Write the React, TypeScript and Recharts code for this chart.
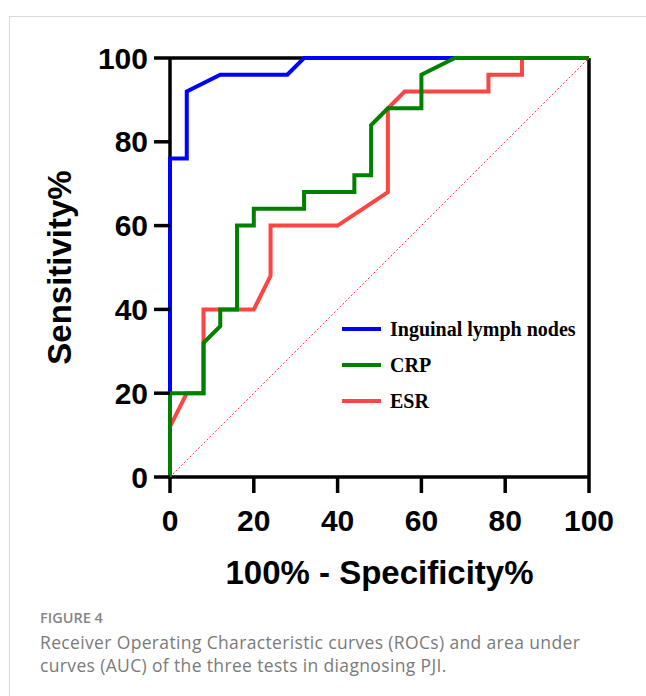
import { Legend, Line, LineChart, ReferenceLine, XAxis, YAxis } from "recharts";

const xTicks = [0, 20, 40, 60, 80, 100];
const yTicks = [0, 20, 40, 60, 80, 100];

// ROC points: x = 100% - specificity, y = sensitivity
const lymphX = [0, 0, 4, 4, 12, 28, 32, 100];
const lymphY = [0, 76, 76, 92, 96, 96, 100, 100];

const crpX = [0, 0, 8, 8, 12, 12, 16, 16, 20, 20, 32, 32, 44, 44, 48, 48, 52, 60, 60, 68, 100];
const crpY = [0, 20, 20, 32, 36, 40, 40, 60, 60, 64, 64, 68, 68, 72, 72, 84, 88, 88, 96, 100, 100];

const esrX = [0, 0, 4, 8, 8, 20, 24, 24, 40, 52, 52, 56, 76, 76, 84, 84, 100];
const esrY = [0, 12, 20, 20, 40, 40, 48, 60, 60, 68, 88, 92, 92, 96, 96, 100, 100];

const legendNames = ["Inguinal lymph nodes", "CRP", "ESR"];
const legendColors = ["#0000ff", "#008000", "#ff4444"];

const toPoints = (xs: number[], ys: number[]) => xs.map((x, i) => ({ x, y: ys[i] }));

const lymphData = toPoints(lymphX, lymphY);
const crpData = toPoints(crpX, crpY);
const esrData = toPoints(esrX, esrY);

const axisFont = "'Liberation Sans', Arial, Helvetica, sans-serif";
const tickStyle = { fontSize: 30, fontWeight: 700, fill: "#000", fontFamily: axisFont };
const frameStroke = { stroke: "#000", strokeWidth: 3.5 };

const XTitle = ({ viewBox }: any) => {
  const cx = viewBox.x + viewBox.width / 2;
  return (
    <text x={cx} y={584} textAnchor="middle" fontSize={33} fontWeight={700} fill="#000" fontFamily={axisFont}>
      100% - Specificity%
    </text>
  );
};

const YTitle = ({ viewBox }: any) => {
  const cy = viewBox.y + viewBox.height / 2;
  return (
    <text
      x={71}
      y={cy}
      transform={`rotate(-90 71 ${cy})`}
      textAnchor="middle"
      fontSize={33}
      fontWeight={700}
      fill="#000"
      fontFamily={axisFont}
    >
      Sensitivity%
    </text>
  );
};

const renderLegend = () => (
  <div>
    {legendNames.map((name, i) => (
      <div key={name} style={{ display: "flex", alignItems: "center", height: 36 }}>
        <div style={{ width: 39, height: 4, background: legendColors[i], marginRight: 9 }} />
        <span
          style={{
            fontFamily: "'Liberation Serif', 'Times New Roman', serif",
            fontWeight: 700,
            fontSize: 20,
            color: "#000",
            lineHeight: "20px",
            whiteSpace: "nowrap",
          }}
        >
          {name}
        </span>
      </div>
    ))}
  </div>
);

export default function App() {
  return (
    <div style={{ position: "absolute", left: 0, top: 0, width: 646, height: 696, background: "#fff", overflow: "hidden" }}>
      <div
        style={{
          position: "absolute",
          left: 9,
          top: 16,
          width: 700,
          height: 700,
          borderLeft: "1px solid #d9d9d9",
          borderTop: "1px solid #d9d9d9",
        }}
      />
      <div style={{ position: "absolute", left: 0, top: 0 }}>
        <LineChart width={646} height={600} margin={{ top: 58, right: 57, left: 0, bottom: 0 }}>
          <XAxis
            dataKey="x"
            type="number"
            domain={[0, 100]}
            ticks={xTicks}
            interval={0}
            height={123}
            tickSize={16}
            tickMargin={17}
            axisLine={false}
            tickLine={frameStroke}
            tick={tickStyle}
            label={{ content: XTitle }}
          />
          <YAxis
            dataKey="y"
            type="number"
            domain={[0, 100]}
            ticks={yTicks}
            interval={0}
            width={170}
            tickSize={16}
            tickMargin={6}
            axisLine={false}
            tickLine={frameStroke}
            tick={tickStyle}
            label={{ content: YTitle }}
          />
          {/* box frame drawn under the curves */}
          <ReferenceLine y={0} {...frameStroke} />
          <ReferenceLine x={0} {...frameStroke} />
          <ReferenceLine y={100} {...frameStroke} />
          <ReferenceLine x={100} {...frameStroke} />
          <ReferenceLine
            segment={[
              { x: 0, y: 0 },
              { x: 100, y: 100 },
            ]}
            stroke="#ff3333"
            strokeWidth={1}
            strokeDasharray="2 2"
          />
          <Line data={esrData} dataKey="y" name="ESR" type="linear" stroke="#ff4444" strokeWidth={4} dot={false} activeDot={false} isAnimationActive={false} />
          <Line data={lymphData} dataKey="y" name="Inguinal lymph nodes" type="linear" stroke="#0000ff" strokeWidth={4} dot={false} activeDot={false} isAnimationActive={false} />
          <Line data={crpData} dataKey="y" name="CRP" type="linear" stroke="#008000" strokeWidth={4} dot={false} activeDot={false} isAnimationActive={false} />
          <Legend
            layout="vertical"
            align="center"
            verticalAlign="middle"
            content={renderLegend}
            wrapperStyle={{ position: "absolute", left: 342, top: 311, width: 260 }}
          />
        </LineChart>
      </div>
      <div
        style={{
          position: "absolute",
          left: 40,
          top: 608,
          fontFamily: "'Open Sans', 'Noto Sans', sans-serif",
          color: "#7a7a7a",
        }}
      >
        <div style={{ fontSize: 14.5, lineHeight: "20px", fontWeight: 600, color: "#858585" }}>FIGURE 4</div>
        <div style={{ fontSize: 17.5, lineHeight: "23px", marginTop: 3, letterSpacing: 0.35, width: 600 }}>
          Receiver Operating Characteristic curves (ROCs) and area under
          <br />
          curves (AUC) of the three tests in diagnosing PJI.
        </div>
      </div>
    </div>
  );
}
